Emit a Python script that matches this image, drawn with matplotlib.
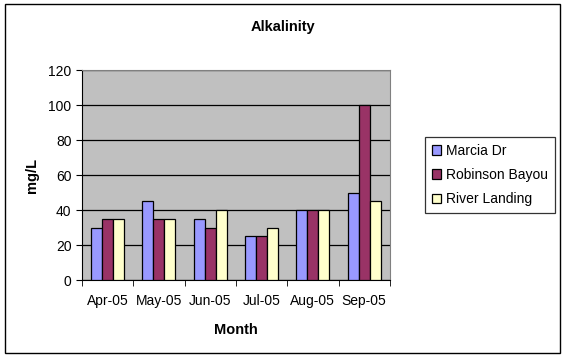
import numpy as np
import matplotlib
matplotlib.use("Agg")
import matplotlib.pyplot as plt
from matplotlib.patches import Rectangle

plt.rcParams["font.family"] = ["Liberation Sans", "DejaVu Sans"]

# data
months = ["Apr-05", "May-05", "Jun-05", "Jul-05", "Aug-05", "Sep-05"]
marcia = [30, 45, 35, 25, 40, 50]
robinson = [35, 35, 30, 25, 40, 100]
river = [35, 35, 40, 30, 40, 45]

series_names = ["Marcia Dr", "Robinson Bayou", "River Landing"]
colors = ["#9999FF", "#993366", "#FFFFCC"]

fig = plt.figure(figsize=(5.65, 3.59), dpi=100)
fig.patches.append(Rectangle((0.009, 0.017), 0.982, 0.972, transform=fig.transFigure,
                             fill=False, edgecolor="black", linewidth=1))

ax = fig.add_axes([0.145, 0.22, 0.545, 0.585])
ax.set_facecolor("#C0C0C0")

x = np.arange(len(months))
w = 0.215
for i, (vals, name, c) in enumerate(zip([marcia, robinson, river], series_names, colors)):
    ax.bar(x + (i - 1) * w, vals, width=w, color=c, edgecolor="black",
           linewidth=0.9, label=name, zorder=3)

ax.set_xlim(-0.5, len(months) - 0.5)
ax.set_ylim(0, 120)
ax.set_yticks(range(0, 121, 20))
ax.yaxis.grid(True, color="black", linewidth=0.9, zorder=1)
ax.set_axisbelow(True)
ax.set_xticks(x)
ax.set_xticklabels(months, fontsize=10)
ax.set_xticks(np.arange(len(months) + 1) - 0.5, minor=True)
ax.tick_params(axis="x", which="major", length=0, pad=10)
ax.tick_params(axis="x", which="minor", length=4, direction="out")
ax.tick_params(axis="y", labelsize=10, length=4, direction="out")

for side in ["top", "right"]:
    ax.spines[side].set_color("#808080")
ax.spines["left"].set_color("black")
ax.spines["bottom"].set_color("black")

fig.text(0.5, 1 - 27 / 359, "Alkalinity", fontsize=10.5, fontweight="bold",
         ha="center", va="center")
ax.set_xlabel("Month", fontsize=10.5, fontweight="bold", labelpad=11)
ax.set_ylabel("mg/L", fontsize=10.5, fontweight="bold", labelpad=7)

leg = ax.legend(loc="center left", bbox_to_anchor=(1.1, 0.5), fontsize=10,
                frameon=True, fancybox=False, edgecolor="black",
                handlelength=0.7, handleheight=0.7, handletextpad=0.3,
                borderpad=0.5, labelspacing=0.75, borderaxespad=0.3)
leg.get_frame().set_linewidth(0.9)

fig.savefig("out.png", dpi=100)
